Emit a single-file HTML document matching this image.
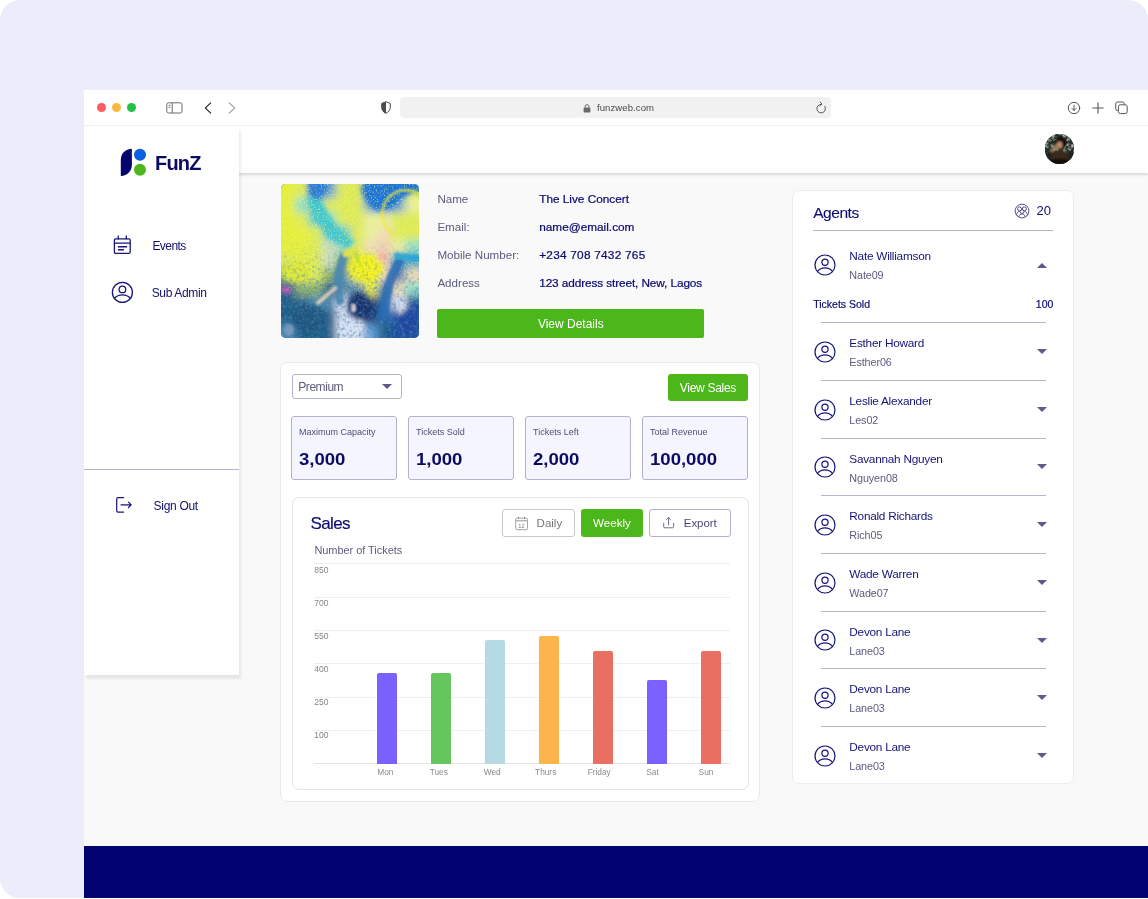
<!DOCTYPE html>
<html lang="en">
<head>
<meta charset="utf-8">
<title>FunZ</title>
<style>
*{box-sizing:border-box;margin:0;padding:0}
html,body{width:1148px;height:899px;overflow:hidden;background:#fff}
body{font-family:"Liberation Sans",sans-serif;color:#0b0b70;position:relative}
.abs{position:absolute}
.outer{position:absolute;left:0;top:0;width:1148px;height:898px;background:#ecedfa;border-radius:20px 20px 0 20px;overflow:hidden}
.browser{position:absolute;left:84px;top:90px;width:1064px;height:808px;background:#f9f9f9;overflow:hidden}
.chrome{position:absolute;left:0;top:0;width:1064px;height:36px;background:#fff;border-bottom:1px solid #f0f0f0}
.tl{position:absolute;top:13px;width:9px;height:9px;border-radius:50%}
.urlbar{position:absolute;left:316px;top:7px;width:431px;height:21px;border-radius:4px;background:#f1f1f1}
.urltxt{position:absolute;left:513px;top:12px;font-size:9.5px;line-height:12px;color:#4a4a4a;letter-spacing:.1px}
.header{position:absolute;left:0;top:36px;width:1064px;height:47px;background:#fff;box-shadow:0 1.500px 2.500px rgba(0,0,0,.13)}
.sidebar{position:absolute;left:0;top:36px;width:155px;height:549px;background:#fff;box-shadow:1.500px 4px 2.500px rgba(0,0,0,.075)}
.footer{position:absolute;left:0;top:756px;width:1064px;height:52px;background:#020370}
.nav{position:absolute;font-size:12px;line-height:14px;color:#10106e;white-space:nowrap}
.lbl{position:absolute;left:353.400px;margin-top:.9px;font-size:11.600px;line-height:14px;color:#5d5b80;white-space:nowrap}
.val{position:absolute;left:455.200px;margin-top:.8px;font-size:11.800px;line-height:14px;color:#0b0b70;white-space:nowrap;-webkit-text-stroke:.22px #0b0b70}
.btn{position:absolute;background:#4cb71a;color:#fff;text-align:center;border-radius:3px;white-space:nowrap}
.card{position:absolute;background:#fff;border:1px solid #ebebee}
.stat{position:absolute;top:326px;width:106px;height:64px;background:#f5f5ff;border:1px solid #b3b1cc;border-radius:3px}
.stat .l{position:absolute;left:7px;top:10px;font-size:9px;line-height:11px;color:#4f4d78;white-space:nowrap}
.stat .v{position:absolute;left:7px;top:32.700px;font-size:16px;line-height:20px;font-weight:bold;color:#0b0b64;transform:scaleX(1.16);transform-origin:0 0;white-space:nowrap}
.grid{position:absolute;left:230px;width:416px;height:1px;background:#eeeeee}
.yl{position:absolute;left:230.300px;font-size:8.500px;line-height:10px;color:#858585}
.bar{position:absolute;width:20px;border-radius:2px 2px 0 0}
.xl{position:absolute;width:40px;text-align:center;top:677px;font-size:8.300px;line-height:10px;color:#8a8a8a}
.obtn{position:absolute;top:419px;height:28px;border:1px solid #c9c9c9;border-radius:3px;background:#fff;font-size:11.5px;line-height:26px;color:#777;white-space:nowrap}
.arow{position:absolute;left:709px;width:281px;height:58px}
.arow .nm{position:absolute;left:56.300px;top:14px;font-size:11.800px;line-height:14px;color:#15157a;white-space:nowrap;letter-spacing:-.25px}
.arow .id{position:absolute;left:56.300px;top:34px;font-size:10.800px;line-height:13px;color:#5d5b80;white-space:nowrap;letter-spacing:-.1px}
.arow svg.u{position:absolute;left:21px;top:18.800px}
.arow .car{position:absolute;left:243.600px;top:26.900px;width:0;height:0;border-left:5px solid transparent;border-right:5px solid transparent;border-top:5px solid #5d5b8c}
.arow .div{position:absolute;left:27.800px;top:0;width:225px;height:1px;background:#b5b3cf}
</style>
</head>
<body>
<div class="outer">
<div class="browser">

<!-- BROWSER CHROME -->
<div class="chrome">
  <div class="tl" style="left:13px;background:#fe5b5f"></div>
  <div class="tl" style="left:28px;background:#fdb640"></div>
  <div class="tl" style="left:43px;background:#21c148"></div>
  <svg class="abs" style="left:82px;top:12px" width="17" height="12" viewBox="0 0 17 12" fill="none" stroke="#6b6b6b" stroke-width="1"><rect x=".8" y=".8" width="15.2" height="10.2" rx="1.8"/><path d="M6.2 1v10M2.6 3.4h1.8M2.6 5.4h1.8"/></svg>
  <svg class="abs" style="left:120px;top:12px" width="8" height="12" viewBox="0 0 8 12" fill="none" stroke="#3d3d3d" stroke-width="1.2" stroke-linecap="round" stroke-linejoin="round"><path d="M6.6 1 1.3 6l5.3 5"/></svg>
  <svg class="abs" style="left:144px;top:12px" width="8" height="12" viewBox="0 0 8 12" fill="none" stroke="#a9a9a9" stroke-width="1.2" stroke-linecap="round" stroke-linejoin="round"><path d="M1.4 1 6.7 6l-5.3 5"/></svg>
  <svg class="abs" style="left:297px;top:11px" width="10" height="13" viewBox="0 0 10 13"><path d="M5 .8 9.3 2.4v3.8c0 2.8-1.8 4.9-4.3 6-2.500-1.100-4.300-3.200-4.300-6V2.400z" fill="none" stroke="#4a4a4a" stroke-width="1"/><path d="M5 .8v12C2.500 11.700.7 9.600.7 6.200V2.400z" fill="#4a4a4a"/></svg>
  <div class="urlbar"></div>
  <svg class="abs" style="left:499px;top:14px" width="8" height="9" viewBox="0 0 8 9"><rect x=".6" y="3.600" width="6.800" height="5" rx=".8" fill="#6a6a6a"/><path d="M2.100 3.800V2.600a1.900 1.900 0 0 1 3.800 0v1.200" fill="none" stroke="#6a6a6a" stroke-width="1"/></svg>
  <div class="urltxt">funzweb.com</div>
  <svg class="abs" style="left:731px;top:11px" width="12" height="14" viewBox="0 0 12 14" fill="none" stroke="#5a5a5a" stroke-width="1" stroke-linecap="round" stroke-linejoin="round"><path d="M9.800 5.300A4.300 4.300 0 1 1 6 3.300"/><path d="M5.200 1 7 3.200 4.800 4.600"/></svg>
  <svg class="abs" style="left:983px;top:11px" width="14" height="14" viewBox="0 0 14 14" fill="none" stroke="#555" stroke-width="1" stroke-linecap="round" stroke-linejoin="round"><circle cx="7" cy="7" r="5.700"/><path d="M7 4.200v5.200M4.900 7.400 7 9.500l2.100-2.100"/></svg>
  <svg class="abs" style="left:1008px;top:12px" width="12" height="12" viewBox="0 0 12 12" fill="none" stroke="#555" stroke-width="1.100" stroke-linecap="round"><path d="M6 .8v10.400M.8 6h10.400"/></svg>
  <svg class="abs" style="left:1031px;top:11px" width="13" height="14" viewBox="0 0 13 14" fill="none" stroke="#555" stroke-width="1"><rect x=".7" y="1" width="8.600" height="8.600" rx="2"/><rect x="3.400" y="3.800" width="8.800" height="8.800" rx="2" fill="#fff"/></svg>
</div>

<!-- APP HEADER -->
<div class="header">
  <div class="abs" id="avatar" style="left:960.800px;top:8.400px;width:29.400px;height:29.400px;border-radius:50%;overflow:hidden;background:#2b2b23">
<svg width="30" height="30" viewBox="0 0 30 30" style="display:block"><defs><filter id="ab" x="-30%" y="-30%" width="160%" height="160%"><feGaussianBlur stdDeviation="1"/></filter><filter id="an" x="0" y="0" width="100%" height="100%"><feTurbulence type="fractalNoise" baseFrequency=".28" numOctaves="2" seed="7"/><feColorMatrix type="matrix" values="0 0 0 0 .62  0 0 0 0 .72  0 0 0 0 .66  0 3 0 0 -1.250"/></filter></defs><rect width="30" height="30" fill="#27332a"/><rect width="30" height="19" filter="url(#an)" opacity=".9"/><g filter="url(#ab)"><ellipse cx="15.500" cy="9" rx="6" ry="7" fill="#15110d"/><ellipse cx="14.600" cy="11" rx="2.700" ry="3.600" fill="#c08c6a"/><path d="M5.500 17.500 11.500 12" stroke="#b07c5a" stroke-width="2.800" stroke-linecap="round"/><ellipse cx="15" cy="23.500" rx="11.500" ry="7" fill="#3b2a1c"/><ellipse cx="15" cy="29" rx="13" ry="4.500" fill="#14110d"/><ellipse cx="4" cy="21" rx="3" ry="5" fill="#1d241c"/><ellipse cx="26" cy="21" rx="3" ry="5" fill="#1d241c"/></g></svg></div>
</div>

<!-- MAIN CONTENT PLACEHOLDER -->
<div id="main">
<!-- EVENT IMAGE -->
<div class="abs" id="evimg" style="left:197px;top:94.400px;width:138px;height:153.600px;border-radius:5px;overflow:hidden;background:#2f78b4">
<svg width="138" height="154" viewBox="0 0 138 154" style="display:block">
<defs>
<linearGradient id="lg1" x1="0" y1="0" x2="0" y2="1"><stop offset=".35" stop-color="#000"/><stop offset=".66" stop-color="#fff"/></linearGradient><mask id="mk"><rect width="138" height="154" fill="url(#lg1)"/></mask>
<linearGradient id="lg2" x1="0" y1="0" x2="0" y2="1"><stop offset=".5" stop-color="#fff"/><stop offset=".85" stop-color="#222"/></linearGradient><mask id="mk2"><rect width="138" height="154" fill="url(#lg2)"/></mask>
<filter id="b6" x="-30%" y="-30%" width="160%" height="160%"><feGaussianBlur stdDeviation="4"/></filter>
<filter id="b3" x="-30%" y="-30%" width="160%" height="160%"><feGaussianBlur stdDeviation="2.200"/></filter>
<filter id="b1" x="-30%" y="-30%" width="160%" height="160%"><feGaussianBlur stdDeviation=".9"/></filter>
<filter id="nz" x="0" y="0" width="100%" height="100%"><feTurbulence type="fractalNoise" baseFrequency=".32" numOctaves="3" seed="4"/><feColorMatrix type="matrix" values="0 0 0 0 .06  0 0 0 0 .2  0 0 0 0 .45  2.600 0 0 0 -1.250"/></filter>
<filter id="ny" x="0" y="0" width="100%" height="100%"><feTurbulence type="fractalNoise" baseFrequency=".6" numOctaves="2" seed="9"/><feColorMatrix type="matrix" values="0 0 0 0 .96  0 0 0 0 .93  0 0 0 0 .2  0 3 0 0 -1.550"/></filter>
<filter id="nw" x="0" y="0" width="100%" height="100%"><feTurbulence type="fractalNoise" baseFrequency=".25" numOctaves="3" seed="21"/><feColorMatrix type="matrix" values="0 0 0 0 .9  0 0 0 0 .95  0 0 0 0 1  0 0 2.800 0 -1.500"/></filter>
</defs>
<rect width="138" height="154" fill="#2d7fd0"/>
<g filter="url(#b6)"><rect x="-10" y="-10" width="24.6" height="24.6" fill="#e4ee3c"/><rect x="14" y="-10" width="14.6" height="24.6" fill="#dcea58"/><rect x="28" y="-10" width="14.6" height="24.6" fill="#1f74d6"/><rect x="42" y="-10" width="13.6" height="24.6" fill="#5a9cd8"/><rect x="55" y="-10" width="14.6" height="24.6" fill="#dcea58"/><rect x="69" y="-10" width="14.6" height="24.6" fill="#dcea58"/><rect x="83" y="-10" width="14.6" height="24.6" fill="#1f74d6"/><rect x="97" y="-10" width="13.6" height="24.6" fill="#1f74d6"/><rect x="110" y="-10" width="14.6" height="24.6" fill="#5a9cd8"/><rect x="124" y="-10" width="24.6" height="24.6" fill="#dcea58"/><rect x="-10" y="14" width="24.6" height="14.6" fill="#e4ee3c"/><rect x="14" y="14" width="14.6" height="14.6" fill="#8cdcc8"/><rect x="28" y="14" width="14.6" height="14.6" fill="#40c6d0"/><rect x="42" y="14" width="13.6" height="14.6" fill="#dcea58"/><rect x="55" y="14" width="14.6" height="14.6" fill="#dcea58"/><rect x="69" y="14" width="14.6" height="14.6" fill="#dcea58"/><rect x="83" y="14" width="14.6" height="14.6" fill="#5a9cd8"/><rect x="97" y="14" width="13.6" height="14.6" fill="#1f74d6"/><rect x="110" y="14" width="14.6" height="14.6" fill="#5a9cd8"/><rect x="124" y="14" width="24.6" height="14.6" fill="#e8eea0"/><rect x="-10" y="28" width="24.6" height="14.6" fill="#e4ee3c"/><rect x="14" y="28" width="14.6" height="14.6" fill="#dcea58"/><rect x="28" y="28" width="14.6" height="14.6" fill="#40c6d0"/><rect x="42" y="28" width="13.6" height="14.6" fill="#8cdcc8"/><rect x="55" y="28" width="14.6" height="14.6" fill="#dcea58"/><rect x="69" y="28" width="14.6" height="14.6" fill="#dcea58"/><rect x="83" y="28" width="14.6" height="14.6" fill="#e8eea0"/><rect x="97" y="28" width="13.6" height="14.6" fill="#e8eea0"/><rect x="110" y="28" width="14.6" height="14.6" fill="#dcea58"/><rect x="124" y="28" width="24.6" height="14.6" fill="#dcea58"/><rect x="-10" y="42" width="24.6" height="14.6" fill="#e4ee3c"/><rect x="14" y="42" width="14.6" height="14.6" fill="#e4ee3c"/><rect x="28" y="42" width="14.6" height="14.6" fill="#dcea58"/><rect x="42" y="42" width="13.6" height="14.6" fill="#40c6d0"/><rect x="55" y="42" width="14.6" height="14.6" fill="#40c6d0"/><rect x="69" y="42" width="14.6" height="14.6" fill="#dcea58"/><rect x="83" y="42" width="14.6" height="14.6" fill="#e8eea0"/><rect x="97" y="42" width="13.6" height="14.6" fill="#efdcbc"/><rect x="110" y="42" width="14.6" height="14.6" fill="#dcea58"/><rect x="124" y="42" width="24.6" height="14.6" fill="#dcea58"/><rect x="-10" y="56" width="24.6" height="14.6" fill="#e4ee3c"/><rect x="14" y="56" width="14.6" height="14.6" fill="#e4ee3c"/><rect x="28" y="56" width="14.6" height="14.6" fill="#dcea58"/><rect x="42" y="56" width="13.6" height="14.6" fill="#c8dcc4"/><rect x="55" y="56" width="14.6" height="14.6" fill="#8cdcc8"/><rect x="69" y="56" width="14.6" height="14.6" fill="#dcea58"/><rect x="83" y="56" width="14.6" height="14.6" fill="#efdcbc"/><rect x="97" y="56" width="13.6" height="14.6" fill="#f2ccb6"/><rect x="110" y="56" width="14.6" height="14.6" fill="#e8eea0"/><rect x="124" y="56" width="24.6" height="14.6" fill="#8cdcc8"/><rect x="-10" y="70" width="24.6" height="14.6" fill="#dcea58"/><rect x="14" y="70" width="14.6" height="14.6" fill="#e4ee3c"/><rect x="28" y="70" width="14.6" height="14.6" fill="#dcea58"/><rect x="42" y="70" width="13.6" height="14.6" fill="#c8dcc4"/><rect x="55" y="70" width="14.6" height="14.6" fill="#88b070"/><rect x="69" y="70" width="14.6" height="14.6" fill="#f2f01a"/><rect x="83" y="70" width="14.6" height="14.6" fill="#f2f01a"/><rect x="97" y="70" width="13.6" height="14.6" fill="#f2ccb6"/><rect x="110" y="70" width="14.6" height="14.6" fill="#2aa0d0"/><rect x="124" y="70" width="24.6" height="14.6" fill="#2aa0d0"/><rect x="-10" y="84" width="24.6" height="14.6" fill="#88b070"/><rect x="14" y="84" width="14.6" height="14.6" fill="#e4ee3c"/><rect x="28" y="84" width="14.6" height="14.6" fill="#dcea58"/><rect x="42" y="84" width="13.6" height="14.6" fill="#88b070"/><rect x="55" y="84" width="14.6" height="14.6" fill="#4a86b0"/><rect x="69" y="84" width="14.6" height="14.6" fill="#f2f01a"/><rect x="83" y="84" width="14.6" height="14.6" fill="#f2f01a"/><rect x="97" y="84" width="13.6" height="14.6" fill="#efdcbc"/><rect x="110" y="84" width="14.6" height="14.6" fill="#2a6cb0"/><rect x="124" y="84" width="24.6" height="14.6" fill="#efdcbc"/><rect x="-10" y="98" width="24.6" height="14.6" fill="#1f5c86"/><rect x="14" y="98" width="14.6" height="14.6" fill="#88b070"/><rect x="28" y="98" width="14.6" height="14.6" fill="#88b070"/><rect x="42" y="98" width="13.6" height="14.6" fill="#1f5c86"/><rect x="55" y="98" width="14.6" height="14.6" fill="#4a86b0"/><rect x="69" y="98" width="14.6" height="14.6" fill="#4a86b0"/><rect x="83" y="98" width="14.6" height="14.6" fill="#f2f01a"/><rect x="97" y="98" width="13.6" height="14.6" fill="#2a6cb0"/><rect x="110" y="98" width="14.6" height="14.6" fill="#efdcbc"/><rect x="124" y="98" width="24.6" height="14.6" fill="#8cdcc8"/><rect x="-10" y="112" width="24.6" height="14.6" fill="#1f5c86"/><rect x="14" y="112" width="14.6" height="14.6" fill="#1f5c86"/><rect x="28" y="112" width="14.6" height="14.6" fill="#4a86b0"/><rect x="42" y="112" width="13.6" height="14.6" fill="#4a86b0"/><rect x="55" y="112" width="14.6" height="14.6" fill="#d4def2"/><rect x="69" y="112" width="14.6" height="14.6" fill="#14306e"/><rect x="83" y="112" width="14.6" height="14.6" fill="#14306e"/><rect x="97" y="112" width="13.6" height="14.6" fill="#2a6cb0"/><rect x="110" y="112" width="14.6" height="14.6" fill="#d4def2"/><rect x="124" y="112" width="24.6" height="14.6" fill="#1f4ea0"/><rect x="-10" y="126" width="24.6" height="14.6" fill="#1f5c86"/><rect x="14" y="126" width="14.6" height="14.6" fill="#1f5c86"/><rect x="28" y="126" width="14.6" height="14.6" fill="#1f5c86"/><rect x="42" y="126" width="13.6" height="14.6" fill="#1f5c86"/><rect x="55" y="126" width="14.6" height="14.6" fill="#d4def2"/><rect x="69" y="126" width="14.6" height="14.6" fill="#14306e"/><rect x="83" y="126" width="14.6" height="14.6" fill="#14306e"/><rect x="97" y="126" width="13.6" height="14.6" fill="#2a6cb0"/><rect x="110" y="126" width="14.6" height="14.6" fill="#1f4ea0"/><rect x="124" y="126" width="24.6" height="14.6" fill="#1f4ea0"/><rect x="-10" y="140" width="24.6" height="24.6" fill="#4a86b0"/><rect x="14" y="140" width="14.6" height="24.6" fill="#1f5c86"/><rect x="28" y="140" width="14.6" height="24.6" fill="#1f5c86"/><rect x="42" y="140" width="13.6" height="24.6" fill="#1f5c86"/><rect x="55" y="140" width="14.6" height="24.6" fill="#d4def2"/><rect x="69" y="140" width="14.6" height="24.6" fill="#d4def2"/><rect x="83" y="140" width="14.6" height="24.6" fill="#5a9cd8"/><rect x="97" y="140" width="13.6" height="24.6" fill="#1f5c86"/><rect x="110" y="140" width="14.6" height="24.6" fill="#1f4ea0"/><rect x="124" y="140" width="24.6" height="24.6" fill="#1f4ea0"/></g>
<g filter="url(#b3)">
<path d="M84 -4H142V10L132 8 118 16 110 24 96 27 86 18 80 6z" fill="#1f74d6"/>
<path d="M27 -3H47L44 8 36 17 28 10z" fill="#2a7cd8"/>
<path d="M26 12 40 18 58 46 74 58 66 64 48 54 34 34z" fill="#40c6d0"/>
<ellipse cx="85" cy="84" rx="17" ry="13" fill="#f3f11a"/>
<ellipse cx="101" cy="73" rx="4" ry="5" fill="#f4aeac"/>
<ellipse cx="70" cy="143" rx="13" ry="11" fill="#d6e0f4"/>
<ellipse cx="78" cy="122" rx="11" ry="14" fill="#14306e"/>
<ellipse cx="121" cy="123" rx="4" ry="8" fill="#d4deee"/>
<ellipse cx="128" cy="138" rx="10" ry="13" fill="#1c44a0"/>
<ellipse cx="5" cy="106" rx="5" ry="4" fill="#d050b8"/>
<ellipse cx="28" cy="134" rx="16" ry="13" fill="#1a5480"/>
<ellipse cx="14" cy="88" rx="14" ry="10" fill="#dce834"/>
</g>
<g mask="url(#mk)"><rect width="138" height="154" filter="url(#nz)" opacity=".7"/></g>
<g mask="url(#mk)"><rect width="138" height="154" filter="url(#nw)" opacity=".16"/></g>
<g mask="url(#mk2)"><rect width="138" height="154" filter="url(#ny)" opacity=".7"/></g>
<g filter="url(#b1)" fill="none" stroke-linecap="round" opacity=".85">
<path d="M112 50A22 22 0 0 1 138 10" stroke="#f0e838" stroke-width="2.500" stroke-dasharray="1.500 2"/>
<path d="M59 117C55 102 57 86 63 72" stroke="#4a86b0" stroke-width="8.500"/>
<path d="M103 132C104 112 108 94 118 78" stroke="#2a6cb4" stroke-width="9"/>
<path d="M116 72 136 74" stroke="#2aa4d4" stroke-width="6.500"/>
<path d="M37 119 54 104" stroke="#ead6ba" stroke-width="4"/>
<path d="M65 70 72 67" stroke="#e8e23c" stroke-width="6.500"/>
<path d="M74 69 78 78" stroke="#a8d848" stroke-width="3"/>
<ellipse cx="72.500" cy="124" rx="2.600" ry="4.500" fill="#f0dcd6" stroke="none"/>
<ellipse cx="8" cy="146" rx="5" ry="6" fill="#7f9cc0" stroke="none"/>
</g>
</svg></div>

<!-- EVENT DETAILS -->
<div class="lbl" style="top:101px">Name</div>
<div class="lbl" style="top:129.200px">Email:</div>
<div class="lbl" style="top:157.200px">Mobile Number:</div>
<div class="lbl" style="top:185.400px">Address</div>
<div class="val" style="top:101px">The Live Concert</div>
<div class="val" style="top:129.200px">name@email.com</div>
<div class="val" style="top:157.200px;letter-spacing:.25px">+234 708 7432 765</div>
<div class="val" style="top:185.400px;letter-spacing:-.1px">123 address street, New, Lagos</div>
<div class="btn" style="left:353.300px;top:219px;width:267px;height:28.800px;font-size:12px;line-height:30.600px;border-radius:2px">View Details</div>

<!-- STATS + CHART CARD -->
<div class="card" style="left:196px;top:272px;width:480px;height:440px;border-radius:7px;border-color:#e9eaf0"></div>
<div class="abs" style="left:208.200px;top:283.500px;width:109.500px;height:25px;border:1px solid #b3b1cc;border-radius:3px;background:#fff"></div>
<div class="abs" style="left:214.300px;top:289.800px;font-size:12px;line-height:14px;color:#5d5b80;letter-spacing:-.45px">Premium</div>
<div class="abs" style="left:298.100px;top:294px;width:0;height:0;border-left:5px solid transparent;border-right:5px solid transparent;border-top:5.200px solid #5d5b8c"></div>
<div class="btn" style="left:584px;top:283.800px;width:79.800px;height:27.600px;font-size:12px;line-height:28.600px;letter-spacing:-.3px">View Sales</div>

<div class="stat" style="left:207px"><div class="l">Maximum Capacity</div><div class="v">3,000</div></div>
<div class="stat" style="left:324px"><div class="l">Tickets Sold</div><div class="v">1,000</div></div>
<div class="stat" style="left:441px"><div class="l">Tickets Left</div><div class="v">2,000</div></div>
<div class="stat" style="left:558px"><div class="l">Total Revenue</div><div class="v">100,000</div></div>

<div class="card" style="left:208px;top:407px;width:457px;height:293px;border-radius:7px;border-color:#e1e4eb"></div>
<div class="abs" style="left:226.500px;top:423.700px;font-size:17px;line-height:20px;color:#0b0b70;letter-spacing:-.6px;-webkit-text-stroke:.15px #0b0b70">Sales</div>
<div class="abs" style="left:230.400px;top:453.900px;font-size:11px;line-height:13px;color:#5d5b80;letter-spacing:-.05px">Number of Tickets</div>

<div class="obtn" style="left:418px;top:419px;width:73px;height:28px"><svg class="abs" style="left:10.200px;top:6px" width="16" height="16" viewBox="0 0 16 16" fill="none" stroke="#8e8e8e" stroke-width=".8"><rect x="2.700" y="2.100" width="11.800" height="11.600" rx="1.500"/><path d="M2.700 4.700h11.800" stroke="#b0b0b0" stroke-width="1.300"/><path d="M5.500 .9v2M11.500 .9v2" stroke-width="1"/><text x="8.600" y="11.500" text-anchor="middle" font-family="Liberation Sans, sans-serif" font-size="5.600" fill="#808080" stroke="none" letter-spacing=".3">12</text></svg><span class="abs" style="left:33.600px;top:0;line-height:26px">Daily</span></div>
<div class="btn" style="left:496.700px;top:419px;width:62.500px;height:28px;font-size:11.600px;line-height:28px">Weekly</div>
<div class="obtn" style="left:565px;top:419px;width:82px;height:28px;border-color:#b3b1cc;color:#4d4b74"><svg class="abs" style="left:10.500px;top:5px" width="16" height="16" viewBox="0 0 16 16" fill="none" stroke="#5f5d86" stroke-width=".9" stroke-linecap="round" stroke-linejoin="round"><path d="M2.700 8.200V11.700Q2.700 12.800 3.800 12.800H11.600Q12.700 12.800 12.700 11.700V8.200"/><path d="M7.600 10V2.700M5.700 4.500 7.600 2.600 9.500 4.500"/></svg><span class="abs" style="left:33.800px;top:0;line-height:26px;letter-spacing:-.05px">Export</span></div>

<div class="grid" style="top:473px"></div><div class="yl" style="top:474.600px">850</div>
<div class="grid" style="top:507px"></div><div class="yl" style="top:508.300px">700</div>
<div class="grid" style="top:540px"></div><div class="yl" style="top:541.400px">550</div>
<div class="grid" style="top:573px"></div><div class="yl" style="top:574px">400</div>
<div class="grid" style="top:607px"></div><div class="yl" style="top:607.300px">250</div>
<div class="grid" style="top:640px"></div><div class="yl" style="top:640.300px">100</div>
<div class="grid" style="top:673px;background:#e3e3e6"></div>

<div class="bar" style="left:293px;top:582.800px;height:90.900px;background:#7b61ff"></div>
<div class="bar" style="left:347px;top:582.800px;height:90.900px;background:#64c65c"></div>
<div class="bar" style="left:401px;top:549.600px;height:124.100px;background:#b5dae4"></div>
<div class="bar" style="left:455px;top:545.800px;height:127.900px;background:#fdb44b"></div>
<div class="bar" style="left:509px;top:561px;height:112.700px;background:#e96f63"></div>
<div class="bar" style="left:563px;top:590.200px;height:83.500px;background:#7b61ff"></div>
<div class="bar" style="left:617px;top:561px;height:112.700px;background:#e96f63"></div>

<div class="xl" style="left:281.400px">Mon</div>
<div class="xl" style="left:334.800px">Tues</div>
<div class="xl" style="left:388.300px">Wed</div>
<div class="xl" style="left:441.700px">Thurs</div>
<div class="xl" style="left:495.200px">Friday</div>
<div class="xl" style="left:548.500px">Sat</div>
<div class="xl" style="left:602px">Sun</div>

<div class="card" style="left:708px;top:100px;width:282px;height:594px;border-radius:7px;border-color:#ecedf2"></div>
<div class="abs" style="left:729.200px;top:113.600px;font-size:15.500px;line-height:18px;color:#0b0b70;letter-spacing:-.45px;-webkit-text-stroke:.1px #0b0b70">Agents</div>
<svg class="abs" style="left:930.400px;top:112.700px" width="16" height="16" viewBox="0 0 16 16" fill="none" stroke="#3f3d7c" stroke-width=".9"><circle cx="8" cy="8" r="6.900"/><path d="M2.500 12.200C2.800 9.700 4 8.500 5.500 8.400M13.500 12.200C13.200 9.700 12 8.500 10.500 8.400"/><circle cx="5.600" cy="5.900" r="2" fill="#fff"/><circle cx="10.400" cy="5.900" r="2" fill="#fff"/><path d="M4.800 14.100C5.100 11.900 6.400 11 8 11s2.900.9 3.200 3.100" fill="#fff"/><circle cx="8" cy="8.600" r="1.900" fill="#fff"/></svg>
<div class="abs" style="left:952.600px;top:112.800px;font-size:13px;line-height:15px;color:#0b0b70">20</div>
<div class="abs" style="left:729.200px;top:140.200px;width:240.200px;height:1px;background:#b5b3cf"></div>
<div class="arow" style="top:145.400px"><svg class="u" width="22" height="22" viewBox="0 0 22 22" fill="none" stroke="#15157a" stroke-width="1.200"><circle cx="11" cy="11" r="10"/><circle cx="11" cy="8.300" r="3.100"/><path d="M3.600 17.400C5.800 14.500 8.600 13.900 11 13.900s5.200.6 7.400 3.500"/></svg><div class="nm">Nate Williamson</div><div class="id">Nate09</div><div class="car" style="top:27.200px;border-top:0;border-bottom:5.200px solid #5d5b8c"></div></div>
<div class="abs" style="left:729.200px;top:208.400px;font-size:10.500px;line-height:12px;color:#0b0b70;-webkit-text-stroke:.18px #0b0b70;letter-spacing:0">Tickets Sold</div>
<div class="abs" style="left:929.400px;top:208.400px;width:40px;text-align:right;font-size:10.500px;line-height:12px;color:#0b0b70;-webkit-text-stroke:.18px #0b0b70">100</div>
<div class="arow" style="top:232.2px"><div class="div"></div><svg class="u" width="22" height="22" viewBox="0 0 22 22" fill="none" stroke="#15157a" stroke-width="1.200"><circle cx="11" cy="11" r="10"/><circle cx="11" cy="8.300" r="3.100"/><path d="M3.600 17.400C5.800 14.500 8.600 13.900 11 13.900s5.200.6 7.400 3.500"/></svg><div class="nm">Esther Howard</div><div class="id">Esther06</div><div class="car"></div></div>
<div class="arow" style="top:289.9px"><div class="div"></div><svg class="u" width="22" height="22" viewBox="0 0 22 22" fill="none" stroke="#15157a" stroke-width="1.200"><circle cx="11" cy="11" r="10"/><circle cx="11" cy="8.300" r="3.100"/><path d="M3.600 17.400C5.800 14.500 8.600 13.900 11 13.900s5.200.6 7.400 3.500"/></svg><div class="nm">Leslie Alexander</div><div class="id">Les02</div><div class="car"></div></div>
<div class="arow" style="top:347.6px"><div class="div"></div><svg class="u" width="22" height="22" viewBox="0 0 22 22" fill="none" stroke="#15157a" stroke-width="1.200"><circle cx="11" cy="11" r="10"/><circle cx="11" cy="8.300" r="3.100"/><path d="M3.600 17.400C5.800 14.500 8.600 13.900 11 13.900s5.200.6 7.400 3.500"/></svg><div class="nm">Savannah Nguyen</div><div class="id">Nguyen08</div><div class="car"></div></div>
<div class="arow" style="top:405.3px"><div class="div"></div><svg class="u" width="22" height="22" viewBox="0 0 22 22" fill="none" stroke="#15157a" stroke-width="1.200"><circle cx="11" cy="11" r="10"/><circle cx="11" cy="8.300" r="3.100"/><path d="M3.600 17.400C5.800 14.500 8.600 13.900 11 13.900s5.200.6 7.400 3.500"/></svg><div class="nm">Ronald Richards</div><div class="id">Rich05</div><div class="car"></div></div>
<div class="arow" style="top:463.0px"><div class="div"></div><svg class="u" width="22" height="22" viewBox="0 0 22 22" fill="none" stroke="#15157a" stroke-width="1.200"><circle cx="11" cy="11" r="10"/><circle cx="11" cy="8.300" r="3.100"/><path d="M3.600 17.400C5.800 14.500 8.600 13.900 11 13.900s5.200.6 7.400 3.500"/></svg><div class="nm">Wade Warren</div><div class="id">Wade07</div><div class="car"></div></div>
<div class="arow" style="top:520.7px"><div class="div"></div><svg class="u" width="22" height="22" viewBox="0 0 22 22" fill="none" stroke="#15157a" stroke-width="1.200"><circle cx="11" cy="11" r="10"/><circle cx="11" cy="8.300" r="3.100"/><path d="M3.600 17.400C5.800 14.500 8.600 13.900 11 13.900s5.200.6 7.400 3.500"/></svg><div class="nm">Devon Lane</div><div class="id">Lane03</div><div class="car"></div></div>
<div class="arow" style="top:578.4px"><div class="div"></div><svg class="u" width="22" height="22" viewBox="0 0 22 22" fill="none" stroke="#15157a" stroke-width="1.200"><circle cx="11" cy="11" r="10"/><circle cx="11" cy="8.300" r="3.100"/><path d="M3.600 17.400C5.800 14.500 8.600 13.900 11 13.900s5.200.6 7.400 3.500"/></svg><div class="nm">Devon Lane</div><div class="id">Lane03</div><div class="car"></div></div>
<div class="arow" style="top:636.1px"><div class="div"></div><svg class="u" width="22" height="22" viewBox="0 0 22 22" fill="none" stroke="#15157a" stroke-width="1.200"><circle cx="11" cy="11" r="10"/><circle cx="11" cy="8.300" r="3.100"/><path d="M3.600 17.400C5.800 14.500 8.600 13.900 11 13.900s5.200.6 7.400 3.500"/></svg><div class="nm">Devon Lane</div><div class="id">Lane03</div><div class="car"></div></div>

</div>

<!-- SIDEBAR -->
<div class="sidebar" id="sidebar">
  <svg class="abs" style="left:36px;top:22px" width="26" height="30" viewBox="0 0 26 30"><path d="M11.900 .8C5.300 1.300 .8 4.800 .8 12.500V28.100C7.500 27.500 11.900 23.300 11.900 16.500z" fill="#05056e"/><circle cx="20" cy="6.800" r="6" fill="#0b5fe0"/><circle cx="20" cy="21.700" r="6" fill="#4cb71a"/></svg>
  <div class="abs" style="left:71px;top:25.400px;font-size:20px;line-height:24px;font-weight:bold;color:#0b0b64;letter-spacing:-.8px">FunZ</div>

  <svg class="abs" style="left:29px;top:109px" width="19" height="20" viewBox="0 0 19 20" fill="none" stroke="#15157a" stroke-width="1.300" stroke-linecap="round" stroke-linejoin="round"><rect x="1.400" y="3.900" width="15.800" height="14.400" rx="1.300"/><path d="M5.200 .9v3M13.300 .9v3M1.400 8.200h15.800"/><path d="M4.900 11.700h9.200M4.900 14.800h6" stroke-width="1.500" stroke-linecap="butt"/></svg>
  <div class="nav" style="left:68.400px;top:112.600px;letter-spacing:-.55px">Events</div>

  <svg class="abs" style="left:27px;top:155px" width="23" height="23" viewBox="0 0 23 23" fill="none" stroke="#15157a" stroke-width="1.300"><circle cx="11.400" cy="11.400" r="10"/><circle cx="11.400" cy="8.400" r="3.300"/><path d="M3.500 17.300C6 14.300 9 13.800 11.400 13.800s5.400.5 7.900 3.500"/></svg>
  <div class="nav" style="left:67.700px;top:159.600px;letter-spacing:-.35px">Sub Admin</div>

  <div class="abs" style="left:0;top:343px;width:155px;height:1px;background:#b5b3cf"></div>

  <svg class="abs" style="left:31px;top:370px" width="18" height="18" viewBox="0 0 18 18" fill="none" stroke="#15157a" stroke-width="1.200" stroke-linecap="round" stroke-linejoin="round"><path d="M8.600 1.600H3Q1.700 1.600 1.700 2.900V14.800Q1.700 16.100 3 16.100H8.600"/><path d="M6 8.800H16.200M13.500 6.100l2.700 2.700-2.700 2.700"/></svg>
  <div class="nav" style="left:69.600px;top:373.200px;letter-spacing:-.3px">Sign Out</div>
</div>

<div class="footer"></div>
</div>
</div>
</body>
</html>
